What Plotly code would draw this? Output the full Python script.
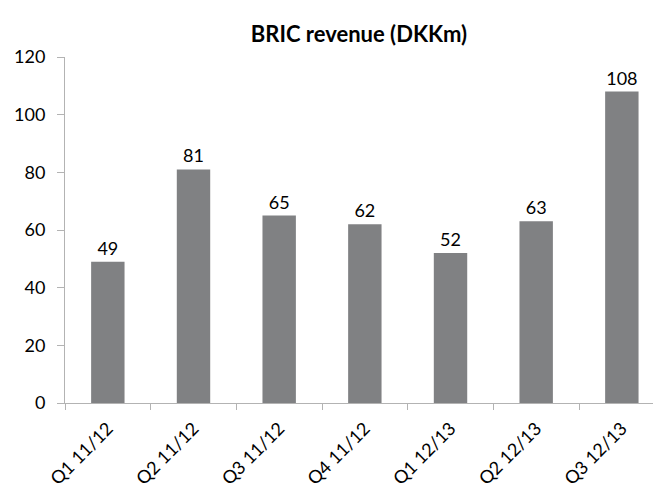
import plotly.graph_objects as go

categories = ["Q1 11/12", "Q2 11/12", "Q3 11/12", "Q4 11/12", "Q1 12/13", "Q2 12/13", "Q3 12/13"]
values = [49, 81, 65, 62, 52, 63, 108]
labels = ["49", "81", "65", "62", "52", "63", "108"]

FONT = "Lato, Open Sans, sans-serif"

fig = go.Figure(go.Bar(
    x=categories, y=values, text=labels, textposition="outside",
    marker=dict(color="#808183", line=dict(width=0)),
    width=0.39, cliponaxis=False,
    textfont=dict(size=18, color="#000000", family=FONT),
))

fig.update_layout(
    width=653, height=481,
    margin=dict(l=57, r=0, t=49, b=86),
    paper_bgcolor="white", plot_bgcolor="white",
    showlegend=False,
    title=dict(text="<b>BRIC revenue (DKKm)</b>", x=0.5375, xanchor="center", y=0.946, yanchor="middle",
               font=dict(size=22, color="#000000", family=FONT)),
    font=dict(family=FONT, color="#000000"),
)
fig.update_xaxes(
    type="category", range=[-0.5, 6.457], automargin=False,
    showline=True, linecolor="#b3b3b3", linewidth=1,
    ticks="outside", tickson="boundaries", ticklen=6, tickcolor="#b3b3b3",
    tickangle=-45, tickfont=dict(size=18, family=FONT, color="#000000"),
    ticklabelstandoff=7,
    showgrid=False, zeroline=False,
)
fig.update_yaxes(
    range=[0, 120], dtick=20, automargin=False,
    showline=True, linecolor="#b3b3b3", linewidth=1,
    ticks="outside", ticklen=7, tickcolor="#b3b3b3",
    tickfont=dict(size=18, family=FONT, color="#000000"),
    ticklabelstandoff=8,
    showgrid=False, zeroline=False,
)

fig.write_html("out.html")
